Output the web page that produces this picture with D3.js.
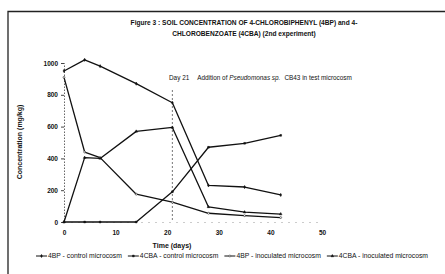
<!DOCTYPE html>
<html><head><meta charset="utf-8">
<script src="https://cdn.jsdelivr.net/npm/d3@7"></script>
<style>body{margin:0;background:#fff}svg{display:block}text{font-family:"Liberation Sans",Arial,sans-serif;fill:#111}</style>
</head><body>
<svg id="c" width="445" height="274"></svg>
<script>
const days = [0, 4, 7, 14, 21, 28, 35, 42];
const bp_control = [950, 1020, 980, 870, 750, 230, 220, 170];
const cba_control = [0, 0, 0, 0, 190, 470, 495, 545];
const bp_inoc = [910, 440, 405, 175, 125, 55, 40, 28];
const cba_inoc = [0, 405, 400, 570, 595, 95, 62, 50];
const seriesNames = ["4BP - control microcosm", "4CBA - control microcosm", "4BP - inoculated microcosm", "4CBA - inoculated microcosm"];
const xTicks = [0, 10, 20, 30, 40, 50];
const yTicks = [0, 200, 400, 600, 800, 1000];
const titleLines = ["Figure 3 : SOIL CONCENTRATION OF 4-CHLOROBIPHENYL (4BP) and 4-", "CHLOROBENZOATE (4CBA) (2nd experiment)"];

const svg = d3.select("#c");
const x = d3.scaleLinear().domain([0, 50]).range([64, 322]);
const y = d3.scaleLinear().domain([0, 1000]).range([222, 63]);

// frame
svg.append("path").attr("d", "M8,274 V11.5 H445").attr("fill", "none").attr("stroke", "#222").attr("stroke-width", 1.3);

// title
svg.selectAll(".title").data(titleLines).join("text")
  .attr("x", 244).attr("y", (d, i) => 25 + i * 11).attr("text-anchor", "middle")
  .attr("font-size", 6.6).attr("font-weight", "bold").text(d => d);

// axes
const yAxis = d3.axisLeft(y).tickValues(yTicks).tickFormat(d3.format("d")).tickSize(3).tickPadding(3);
const gy = svg.append("g").attr("transform", "translate(64,0)").call(yAxis);
gy.select(".domain").attr("stroke", "#666").attr("stroke-dasharray", "1.5,1.5");
gy.selectAll(".tick line").attr("stroke", "#444");
gy.selectAll(".tick text").attr("font-size", 6.5).attr("font-weight", "bold").attr("font-family", "Liberation Sans, Arial, sans-serif");

const xAxis = d3.axisBottom(x).tickValues(xTicks).tickFormat(d3.format("d")).tickSize(0).tickPadding(8);
const gx = svg.append("g").attr("transform", "translate(0,222)").call(xAxis);
gx.select(".domain").attr("stroke", "#999").attr("stroke-dasharray", "1,6");
gx.selectAll(".tick text").attr("font-size", 6.5).attr("font-weight", "bold").attr("font-family", "Liberation Sans, Arial, sans-serif");

svg.append("text").attr("x", 172).attr("y", 248).attr("text-anchor", "middle")
  .attr("font-size", 7).attr("font-weight", "bold").text("Time (days)");
svg.append("text").attr("transform", "translate(22,142) rotate(-90)").attr("text-anchor", "middle")
  .attr("font-size", 7).attr("font-weight", "bold").text("Concentration (mg/kg)");

// day 21 marker line
svg.append("line").attr("x1", x(21)).attr("x2", x(21)).attr("y1", 90).attr("y2", 222)
  .attr("stroke", "#555").attr("stroke-width", 0.8).attr("stroke-dasharray", "2,2");
const ann = svg.append("text").attr("x", 169).attr("y", 80).attr("font-size", 6.4);
ann.append("tspan").text("Day 21");
ann.append("tspan").attr("dx", 8).text("Addition of ");
ann.append("tspan").attr("font-style", "italic").text("Pseudomonas sp.");
ann.append("tspan").attr("dx", 4).text("CB43 in test microcosm");

// series
const series = [bp_control, cba_control, bp_inoc, cba_inoc];
const symbols = [d3.symbolDiamond, d3.symbolSquare, d3.symbolCircle, d3.symbolTriangle];
const line = d3.line().x(d => x(d[0])).y(d => y(d[1]));
series.forEach((vals, i) => {
  const pts = days.map((d, j) => [d, vals[j]]);
  svg.append("path").datum(pts).attr("d", line).attr("fill", "none")
    .attr("stroke", "#111").attr("stroke-width", 1.3).attr("stroke-linejoin", "round");
  svg.append("g").selectAll("path").data(pts).join("path")
    .attr("transform", d => `translate(${x(d[0])},${y(d[1])})`)
    .attr("d", d3.symbol().type(symbols[i]).size(3))
    .attr("fill", i === 2 ? "#fff" : "#111").attr("stroke", "#111").attr("stroke-width", 0.5);
});

// legend: laid out in sequence from x=36 to x=428
const lg = svg.append("g");
const items = seriesNames.map((n, i) => {
  const g = lg.append("g");
  g.append("line").attr("x1", 0).attr("x2", 11).attr("y1", 0).attr("y2", 0).attr("stroke", "#111").attr("stroke-width", 1);
  g.append("path").attr("transform", "translate(5.5,0)").attr("d", d3.symbol().type(symbols[i]).size(3))
    .attr("fill", i === 2 ? "#fff" : "#111").attr("stroke", "#111").attr("stroke-width", 0.5);
  const t = g.append("text").attr("x", 12).attr("y", 2.2).attr("font-size", 6.8).text(n);
  return {g, w: 12 + t.node().getComputedTextLength()};
});
const totalW = d3.sum(items, d => d.w);
const gap = (428 - 36 - totalW) / 3;
let cx = 36;
items.forEach(it => { it.g.attr("transform", `translate(${cx},256)`); cx += it.w + gap; });
</script>
</body></html>
